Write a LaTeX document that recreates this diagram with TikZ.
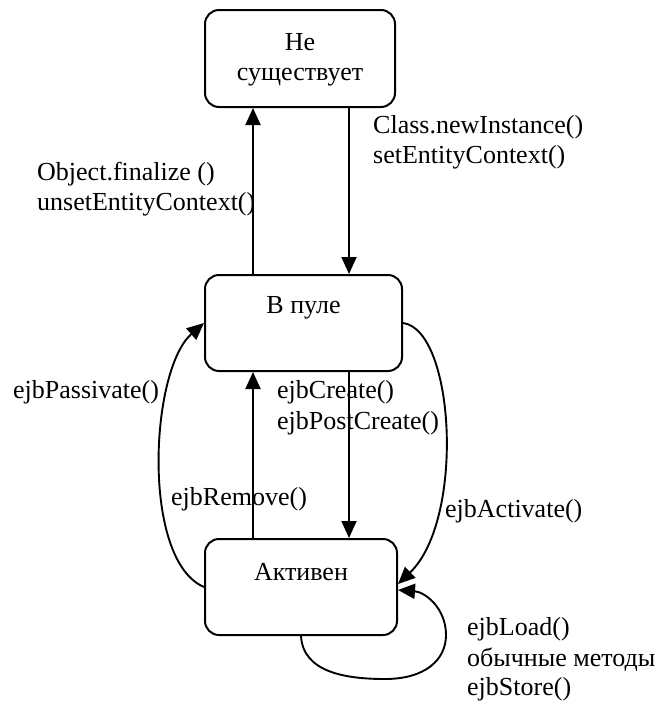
\documentclass[tikz,border=0pt]{standalone}
\usepackage{fontspec}
\setmainfont{Liberation Serif}
\usetikzlibrary{arrows.meta}
\begin{document}
\begin{tikzpicture}[x=1pt,y=-1pt]
\tikzset{
  state/.style={draw, line width=2pt, rounded corners=14pt, inner sep=0pt},
  lbl/.style={anchor=base west, inner sep=0pt, font=\fontsize{26}{30}\selectfont},
  ctr/.style={anchor=base, inner sep=0pt, font=\fontsize{26}{30}\selectfont},
  arr/.style={line width=1.9pt, -{Triangle[length=17pt,width=15pt]}}
}
\path[fill=white, use as bounding box] (0,0) rectangle (665,702);

% states
\node[state, minimum width=190pt, minimum height=97pt] (ne) at (300,58.5) {};
\node[state, minimum width=197pt, minimum height=96pt] (pool) at (303.5,323) {};
\node[state, minimum width=192pt, minimum height=96pt] (act) at (301,587) {};

\node[ctr] (t1) at (300,50) {Не};
\node[ctr] (t2) at (300,80) {существует};
\node[ctr] (t3) at (303.5,313) {В пуле};
\node[ctr] (t4) at (301,580) {Активен};

% straight connectors
\coordinate (xl) at (253,0);
\coordinate (xr) at (349,0);
\draw[arr] (pool.north -| xl) -- (ne.south -| xl);
\draw[arr] (ne.south -| xr) -- (pool.north -| xr);
\draw[arr] (act.north -| xl) -- (pool.south -| xl);
\draw[arr] (pool.south -| xr) -- (act.north -| xr);

% curved connectors
\draw[arr] (act.west) .. controls (141,560) and (150,370) .. (pool.west);
\draw[arr] (pool.east) .. controls (455,330) and (465,520) .. ([yshift=3pt]act.east);
\draw[arr] (act.south) .. controls (303,672) and (345,679) .. (385,679)
  .. controls (425,679) and (446,660) .. (446,635)
  .. controls (446,608) and (425,592) .. ([yshift=-3pt]act.east);

% labels
\node[lbl] (l1) at (373,133) {Class.newInstance()};
\node[lbl] (l2) at (373,163) {setEntityContext()};
\node[lbl] (l3) at (37,180) {Object.finalize ()};
\node[lbl] (l4) at (37,210) {unsetEntityContext()};
\node[lbl] (l5) at (13,398) {ejbPassivate()};
\node[lbl] (l6) at (277,398) {ejbCreate()};
\node[lbl] (l7) at (277,429) {ejbPostCreate()};
\node[lbl] (l8) at (171,505) {ejbRemove()};
\node[lbl] (l9) at (445,517) {ejbActivate()};
\node[lbl] (l10) at (467,635) {ejbLoad()};
\node[lbl] (l11) at (467,666) {обычные методы};
\node[lbl] (l12) at (467,695) {ejbStore()};
\end{tikzpicture}
\end{document}
